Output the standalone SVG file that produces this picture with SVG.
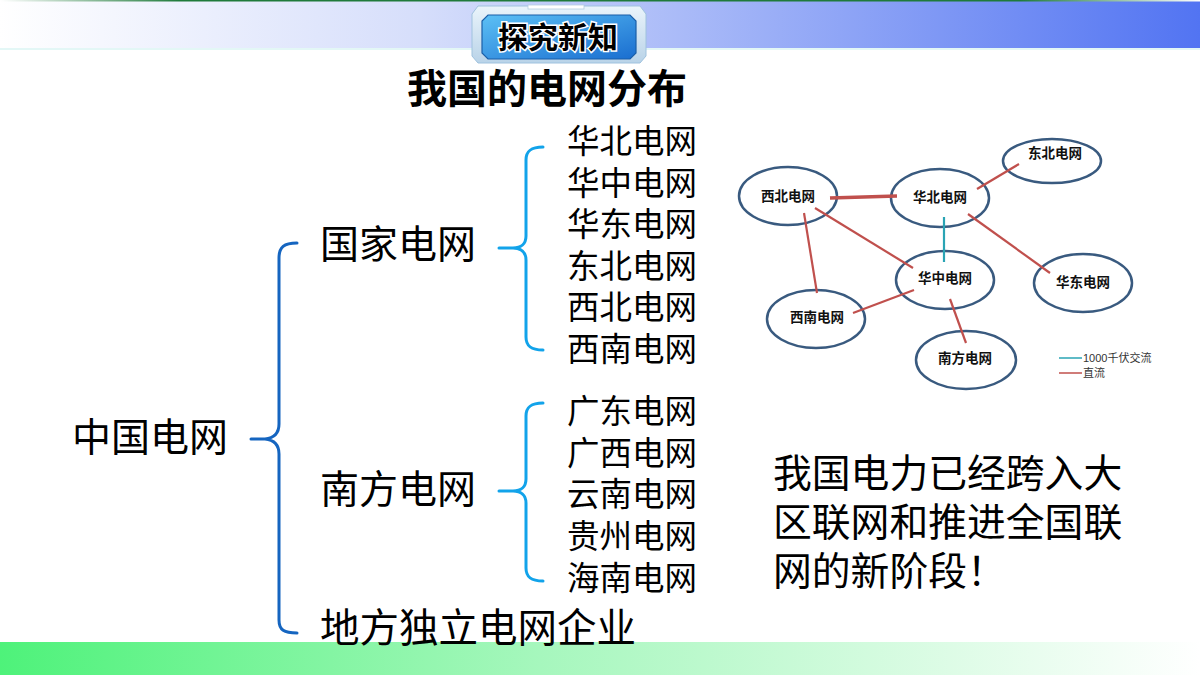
<svg xmlns="http://www.w3.org/2000/svg" width="1200" height="675" viewBox="0 0 1200 675">
<defs>
<linearGradient id="hdr" x1="0" y1="0" x2="1" y2="0">
<stop offset="0" stop-color="#ffffff"/>
<stop offset="0.35" stop-color="#d6defb"/>
<stop offset="1" stop-color="#5274f2"/>
</linearGradient>
<linearGradient id="topline" x1="0" y1="0" x2="1" y2="0">
<stop offset="0" stop-color="#ffffff"/>
<stop offset="0.15" stop-color="#1f7a3a"/>
<stop offset="0.85" stop-color="#1f7a3a"/>
<stop offset="1" stop-color="#ffffff"/>
</linearGradient>
<linearGradient id="ftr" x1="0" y1="0" x2="1" y2="0">
<stop offset="0" stop-color="#4ef27a"/>
<stop offset="0.45" stop-color="#a6f7bd"/>
<stop offset="1" stop-color="#ffffff"/>
</linearGradient>
<linearGradient id="panel" x1="0" y1="0" x2="1" y2="1">
<stop offset="0" stop-color="#5cc0f5"/>
<stop offset="1" stop-color="#1a6ed0"/>
</linearGradient>
<linearGradient id="frame" x1="0" y1="0" x2="0" y2="1">
<stop offset="0" stop-color="#eaf4fb"/>
<stop offset="1" stop-color="#b9d3e8"/>
</linearGradient>
<style>
.t{font-family:"Liberation Sans","Noto Sans CJK SC",sans-serif;fill:#000;dominant-baseline:central}
.big{font-size:39px}
.list{font-size:32.5px}
.nd{font-family:"Liberation Sans","Noto Sans CJK SC",sans-serif;font-size:13.5px;font-weight:bold;fill:#111;text-anchor:middle;dominant-baseline:central}
.ell{fill:#fff;stroke:#395a7f;stroke-width:2.5}
.dc{stroke:#c0504d;stroke-width:2.2;fill:none}
.ac{stroke:#2aa4b4;stroke-width:2.2;fill:none}
.b1{fill:none;stroke:#1565c0;stroke-width:3;stroke-linecap:round}
.b2{fill:none;stroke:#12a3ea;stroke-width:3;stroke-linecap:round}
.lg{font-family:"Liberation Sans","Noto Sans CJK SC",sans-serif;font-size:11px;fill:#333;dominant-baseline:central}
</style>
</defs>

<!-- header -->
<rect x="0" y="0" width="1200" height="48" fill="url(#hdr)"/>
<rect x="0" y="0" width="1200" height="1.5" fill="url(#topline)"/>
<rect x="0" y="48" width="1200" height="2" fill="#e3f7f6"/>

<g id="badge">
<path d="M478,6 L640,6 L646,14 L646,56 L640,63 L478,63 L472,56 L472,14 Z" fill="url(#frame)" stroke="#9fc2de" stroke-width="1"/>
<rect x="528" y="5" width="56" height="4" fill="#ffffff" stroke="#b5cde0" stroke-width="0.8"/>
<path d="M488,15 L630,15 L636,21 L636,53 L630,59 L488,59 L482,53 L482,21 Z" fill="url(#panel)" stroke="#1b5fa8" stroke-width="1.2"/>
<text x="558" y="37" text-anchor="middle" style="font-family:'Liberation Sans','Noto Sans CJK SC',sans-serif;font-size:30px;font-weight:bold;fill:#000;stroke:#fff;stroke-width:3;paint-order:stroke;dominant-baseline:central">探究新知</text>
</g>

<!-- footer -->
<rect x="0" y="642" width="1200" height="33" fill="url(#ftr)"/>

<g id="title"><text class="t" x="407" y="89" style="font-size:40px;font-weight:bold">我国的电网分布</text></g>

<g id="root"><text class="t big" x="72" y="437">中国电网</text></g>

<g id="connectors">
<path class="b1" d="M297,243 C284,243 279,247 279,258 L279,424 C279,433 274,438 265,439 L251,439 M265,439 C274,440 279,445 279,454 L279,620 C279,630 284,633 297,633"/>
<path class="b2" d="M543,147 C531,147 526,151 526,160 L526,236 C526,244 521,248 513,248 L499,248 M513,248 C521,248 526,252 526,260 L526,337 C526,346 531,350 543,350"/>
<path class="b2" d="M543,403 C531,403 526,407 526,416 L526,479 C526,487 521,491 513,491 L499,491 M513,491 C521,491 526,495 526,503 L526,568 C526,577 531,581 543,581"/>
</g>

<g id="state-grid"><text class="t big" x="320" y="244">国家电网</text></g>
<g id="south-grid"><text class="t big" x="320" y="489">南方电网</text></g>
<g id="local-grid"><text class="t" x="320" y="628" style="font-size:39.5px">地方独立电网企业</text></g>

<g id="state-list" class="t list">
<text x="567" y="142">华北电网</text>
<text x="567" y="183.5">华中电网</text>
<text x="567" y="225">华东电网</text>
<text x="567" y="266.5">东北电网</text>
<text x="567" y="308">西北电网</text>
<text x="567" y="349.5">西南电网</text>
</g>
<g id="south-list" class="t list">
<text x="567" y="412">广东电网</text>
<text x="567" y="453.5">广西电网</text>
<text x="567" y="495">云南电网</text>
<text x="567" y="537">贵州电网</text>
<text x="567" y="579">海南电网</text>
</g>

<g id="note" class="t" style="font-size:38.8px">
<text x="773" y="473">我国电力已经跨入大</text>
<text x="773" y="522">区联网和推进全国联</text>
<text x="773" y="571">网的新阶段！</text>
</g>

<!-- network map -->
<g id="map-nodes">
<g id="n-db"><ellipse class="ell" cx="1052" cy="161" rx="49" ry="22"/><text class="nd" x="1055" y="153">东北电网</text></g>
<g id="n-xb"><ellipse class="ell" cx="788" cy="196" rx="49" ry="29"/><text class="nd" x="788" y="196">西北电网</text></g>
<g id="n-hb"><ellipse class="ell" cx="940" cy="198" rx="49" ry="29"/><text class="nd" x="940" y="197">华北电网</text></g>
<g id="n-hz"><ellipse class="ell" cx="945" cy="280" rx="49" ry="29"/><text class="nd" x="945" y="278">华中电网</text></g>
<g id="n-hd"><ellipse class="ell" cx="1083" cy="283" rx="49" ry="29"/><text class="nd" x="1083" y="282">华东电网</text></g>
<g id="n-xn"><ellipse class="ell" cx="816" cy="319" rx="49" ry="29"/><text class="nd" x="817" y="317">西南电网</text></g>
<g id="n-nf"><ellipse class="ell" cx="966" cy="360" rx="50" ry="29"/><text class="nd" x="965" y="358">南方电网</text></g>
</g>
<g id="map-links">
<line class="dc" x1="830" y1="198" x2="897" y2="196" style="stroke-width:3.5"/>
<line class="dc" x1="977" y1="189" x2="1019" y2="164"/>
<line class="dc" x1="815" y1="208" x2="913" y2="268"/>
<line class="dc" x1="804" y1="213" x2="817" y2="293"/>
<line class="dc" x1="968" y1="214" x2="1050" y2="273"/>
<line class="dc" x1="914" y1="290" x2="853" y2="313"/>
<line class="dc" x1="950" y1="299" x2="966" y2="343"/>
<line class="ac" x1="944" y1="217" x2="944" y2="262"/>
</g>
<g id="legend">
<line class="ac" x1="1059" y1="358" x2="1082" y2="358" style="stroke-width:1.5"/>
<text class="lg" x="1083" y="358">1000千伏交流</text>
<line class="dc" x1="1059" y1="373" x2="1082" y2="373" style="stroke-width:1.5"/>
<text class="lg" x="1083" y="373">直流</text>
</g>
</svg>
